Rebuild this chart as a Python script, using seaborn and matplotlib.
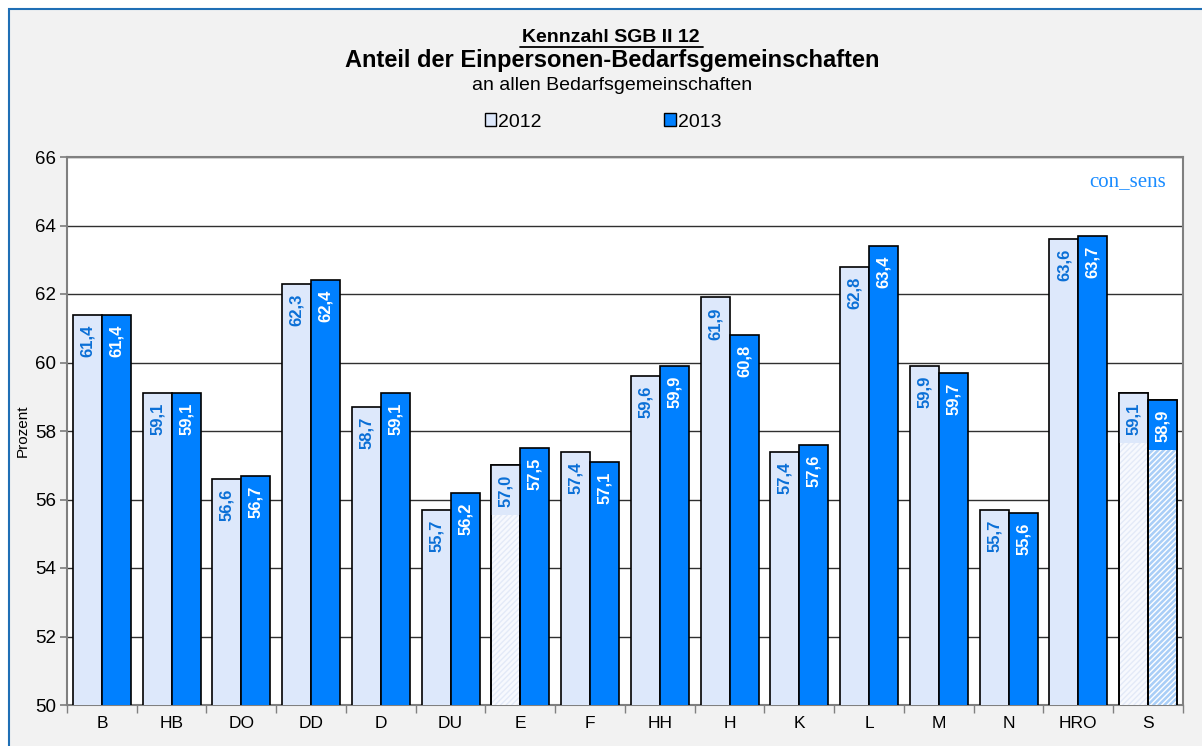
import matplotlib
matplotlib.use("Agg")
import matplotlib.pyplot as plt
import seaborn as sns
import pandas as pd
import numpy as np
from matplotlib.patches import Rectangle, Patch

categories = ["B", "HB", "DO", "DD", "D", "DU", "E", "F", "HH", "H", "K", "L", "M", "N", "HRO", "S"]
values_2012 = [61.4, 59.1, 56.6, 62.3, 58.7, 55.7, 57.0, 57.4, 59.6, 61.9, 57.4, 62.8, 59.9, 55.7, 63.6, 59.1]
values_2013 = [61.4, 59.1, 56.7, 62.4, 59.1, 56.2, 57.5, 57.1, 59.9, 60.8, 57.6, 63.4, 59.7, 55.6, 63.7, 58.9]
years = ["2012", "2013"]
yticks = [50, 52, 54, 56, 58, 60, 62, 64, 66]

c12 = "#dde8fb"
c13 = "#0080ff"
lab_blue = "#0a6fd6"

df = pd.DataFrame({
    "cat": categories * 2,
    "val": values_2012 + values_2013,
    "year": [years[0]] * len(categories) + [years[1]] * len(categories),
})

sns.set_theme(style="white")
plt.rcParams["font.family"] = ["Liberation Sans", "DejaVu Sans"]
for k in ["text.color", "axes.labelcolor", "xtick.color", "ytick.color"]:
    plt.rcParams[k] = "black"

fig = plt.figure(figsize=(12.02, 7.46), dpi=100)
fig.patch.set_facecolor("white")
W, H = 1202, 746
fig.patches.append(Rectangle((9 / W, -0.01), 1.02, (746 - 9) / H + 0.01, transform=fig.transFigure,
                             facecolor="#f2f2f2", edgecolor="#1f6fb5", linewidth=1.5, zorder=-10))

ax = fig.add_axes([67 / W, (746 - 705) / H, (1183 - 67) / W, (705 - 157) / H])
ax.set_facecolor("white")

sns.barplot(data=df, x="cat", y="val", hue="year", palette=[c12, c13], saturation=1,
            edgecolor="black", linewidth=1.2, width=0.83, ax=ax, legend=False, zorder=3)

ax.set_ylim(50, 66)
ax.set_yticks(yticks)
ax.set_xlim(-0.5, len(categories) - 0.5)
ax.yaxis.grid(True, color="#303030", linewidth=1.0, zorder=0)
ax.set_axisbelow(True)
for s in ax.spines.values():
    s.set_color("#808080")
    s.set_linewidth(1.5)
ax.set_xlabel("")
ax.set_ylabel("Prozent", fontsize=11, color="black", labelpad=4)
ax.tick_params(axis="y", which="both", direction="out", length=5, color="#808080", labelsize=13.5, left=True, pad=3)
ax.tick_params(axis="x", length=0, labelsize=12.5, pad=8)
ax.set_xticks(np.arange(len(categories)))
ax.set_xticklabels(categories)
ax.set_xticks(np.arange(-0.5, len(categories)), minor=True)
ax.tick_params(axis="x", which="minor", direction="out", length=6, color="#808080", bottom=True)

cont12, cont13 = ax.containers[0], ax.containers[1]
hatched12 = {"E", "S"}
hatched13 = {"S"}
label_span = 1.45  # data units of solid background behind a label on hatched bars
for i, cat in enumerate(categories):
    for cont, hs, face, hface, hcol, solid in [
        (cont12, hatched12, c12, "#f7f9fe", "#e3eaf8", c12),
        (cont13, hatched13, c13, "#a9cef7", "#ffffff", c13),
    ]:
        if cat in hs:
            p = cont.patches[i]
            p.set_facecolor(hface)
            p.set_hatch("//////")
            p._hatch_color = matplotlib.colors.to_rgba(hcol)
            top = p.get_y() + p.get_height()
            ax.add_patch(Rectangle((p.get_x(), top - label_span), p.get_width(), label_span,
                                   facecolor=solid, edgecolor="none", zorder=3.5))
            ax.add_patch(Rectangle((p.get_x(), p.get_y()), p.get_width(), p.get_height(),
                                   facecolor="none", edgecolor="black", linewidth=1.2, zorder=3.6))

for cont, vals, col in [(cont12, values_2012, lab_blue), (cont13, values_2013, "white")]:
    for p, v in zip(cont.patches, vals):
        x = p.get_x() + p.get_width() / 2
        txt = f"{v:.1f}".replace(".", ",")
        ax.annotate(txt, xy=(x, v), xytext=(0, -7), textcoords="offset points",
                    rotation=90, ha="center", va="top", fontsize=12, fontweight="bold",
                    color=col, zorder=5)

ax.text(0.985, 0.955, "con_sens", transform=ax.transAxes, ha="right", va="center",
        fontsize=15, color="#1a8cff", family=["Liberation Serif", "DejaVu Serif"])

fig.text(611 / W, 1 - 38 / H, "Kennzahl SGB II 12", ha="center", va="center", fontsize=14,
         fontweight="bold")
fig.add_artist(matplotlib.lines.Line2D([520 / W, 703 / W], [1 - 47 / H, 1 - 47 / H], color="black", linewidth=1.3))
fig.text(612 / W, 1 - 60 / H, "Anteil der Einpersonen-Bedarfsgemeinschaften", ha="center", va="center",
         fontsize=17, fontweight="bold")
fig.text(612 / W, 1 - 85 / H, "an allen Bedarfsgemeinschaften", ha="center", va="center", fontsize=14)

handles = [Patch(facecolor=c12, edgecolor="black", linewidth=1.0), Patch(facecolor=c13, edgecolor="black", linewidth=1.0)]
fig.legend(handles, years, loc="center", bbox_to_anchor=(603 / W, 1 - 122 / H), ncol=2, frameon=False,
           fontsize=14, handlelength=0.6, handleheight=0.6, handletextpad=0.1, columnspacing=6.3)

fig.savefig("out.png", dpi=100, facecolor=fig.get_facecolor())
